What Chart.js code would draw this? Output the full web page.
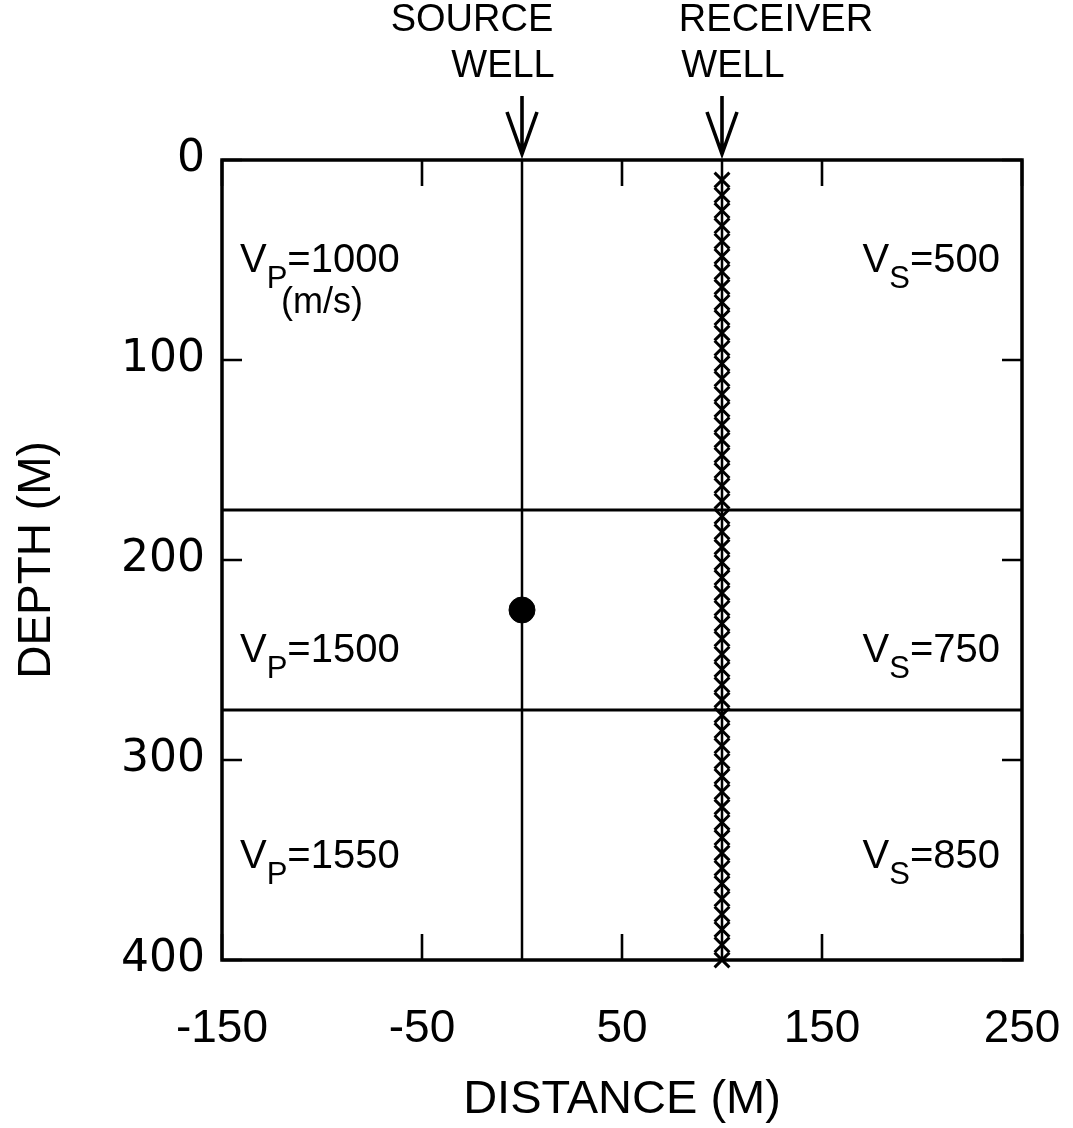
<!DOCTYPE html>
<html><head><meta charset="utf-8">
<script src="https://cdn.jsdelivr.net/npm/chart.js@4/dist/chart.umd.min.js"></script>
<style>html,body{margin:0;padding:0;background:#fff}canvas{display:block}</style>
</head><body>
<canvas id="c" width="1073" height="1128"></canvas>
<script>
// ---- data ----
const xTicks = [-150, -50, 50, 150, 250];
const yTicks = [0, 100, 200, 300, 400];
const wellNames = [['SOURCE', 'WELL'], ['RECEIVER', 'WELL']];
const wellX = [0, 100];
const layerBoundaries = [175, 275];
const sourcePoint = [{x: 0, y: 225}];
const receiverDepths = [10.0, 17.6, 25.3, 32.9, 40.6, 48.2, 55.9, 63.5, 71.2, 78.8, 86.5, 94.1,
  101.8, 109.4, 117.1, 124.7, 132.4, 140.0, 147.6, 155.3, 162.9, 170.6, 178.2, 185.9, 193.5,
  201.2, 208.8, 216.5, 224.1, 231.8, 239.4, 247.1, 254.7, 262.4, 270.0, 277.6, 285.3, 292.9,
  300.6, 308.2, 315.9, 323.5, 331.2, 338.8, 346.5, 354.1, 361.8, 369.4, 377.1, 384.7, 392.4, 400.0];
const vpValues = ['1000', '1500', '1550'];
const vsValues = ['500', '750', '850'];
const labelDepths = [49, 244, 347];
const unitLabel = '(m/s)';

const FONT = '"Liberation Sans", Arial, Helvetica, sans-serif';
const X_MIN = xTicks[0], X_MAX = xTicks[xTicks.length - 1];
const Y_MIN = yTicks[0], Y_MAX = yTicks[yTicks.length - 1];

const datasets = [];
wellX.forEach(w => datasets.push({
  type: 'line', data: [{x: w, y: Y_MIN}, {x: w, y: Y_MAX}],
  borderColor: '#000', borderWidth: 2.5, pointRadius: 0, fill: false
}));
layerBoundaries.forEach(d => datasets.push({
  type: 'line', data: [{x: X_MIN, y: d}, {x: X_MAX, y: d}],
  borderColor: '#000', borderWidth: 3, pointRadius: 0, fill: false
}));
datasets.push({
  type: 'scatter', data: receiverDepths.map(d => ({x: wellX[1], y: d})),
  pointStyle: 'crossRot', pointRadius: 10.5, borderColor: '#000', borderWidth: 3,
  backgroundColor: '#000', clip: false
});
datasets.push({
  type: 'scatter', data: sourcePoint, pointStyle: 'circle', pointRadius: 13,
  backgroundColor: '#000', borderColor: '#000', borderWidth: 1, clip: false
});

function velText(ctx, x, y, sub, val, align) {
  const big = '40px ' + FONT, small = '31px ' + FONT;
  ctx.font = big; const wV = ctx.measureText('V').width;
  const wEq = ctx.measureText('=' + val).width;
  ctx.font = small; const wS = ctx.measureText(sub).width;
  const total = wV + wS + wEq;
  const x0 = align === 'right' ? x - total : x;
  ctx.textAlign = 'left'; ctx.textBaseline = 'alphabetic';
  ctx.font = big; ctx.fillText('V', x0, y);
  ctx.font = small; ctx.fillText(sub, x0 + wV, y + 16);
  ctx.font = big; ctx.fillText('=' + val, x0 + wV + wS, y);
}

const overlay = {
  id: 'overlay',
  afterDatasetsDraw(chart) {
    const {ctx, chartArea: a, scales: {x, y}} = chart;
    ctx.save();
    ctx.strokeStyle = '#000'; ctx.fillStyle = '#000';
    // frame
    ctx.lineWidth = 3.5;
    ctx.strokeRect(a.left, a.top, a.right - a.left, a.bottom - a.top);
    // inside ticks
    ctx.lineWidth = 2.6;
    xTicks.forEach(v => {
      const px = x.getPixelForValue(v);
      ctx.beginPath();
      ctx.moveTo(px, a.top); ctx.lineTo(px, a.top + 26);
      ctx.moveTo(px, a.bottom); ctx.lineTo(px, a.bottom - 26);
      ctx.stroke();
    });
    yTicks.forEach(v => {
      const py = y.getPixelForValue(v);
      ctx.beginPath();
      ctx.moveTo(a.left, py); ctx.lineTo(a.left + 20, py);
      ctx.moveTo(a.right, py); ctx.lineTo(a.right - 20, py);
      ctx.stroke();
    });
    // well arrows and names
    wellX.forEach((w, i) => {
      const px = x.getPixelForValue(w);
      ctx.lineWidth = 3.6;
      ctx.beginPath();
      ctx.moveTo(px, a.top - 64); ctx.lineTo(px, a.top - 6);
      ctx.moveTo(px - 15, a.top - 48); ctx.lineTo(px, a.top - 6); ctx.lineTo(px + 15, a.top - 48);
      ctx.stroke();
      ctx.font = '38px ' + FONT; ctx.textAlign = 'center'; ctx.textBaseline = 'middle';
      const offs = i === 0 ? [-50, -19] : [54, 11];
      ctx.fillText(wellNames[i][0], px + offs[0], 21);
      ctx.fillText(wellNames[i][1], px + offs[1], 67);
    });
    // velocity labels
    const lx = x.getPixelForValue(-141), rx = x.getPixelForValue(239);
    labelDepths.forEach((d, i) => {
      const py = y.getPixelForValue(d) + 14;
      velText(ctx, lx, py, 'P', vpValues[i], 'left');
      velText(ctx, rx, py, 'S', vsValues[i], 'right');
    });
    ctx.font = '36px ' + FONT; ctx.textAlign = 'center'; ctx.textBaseline = 'middle';
    ctx.fillText(unitLabel, x.getPixelForValue(-100), y.getPixelForValue(71.5));
    ctx.restore();
  }
};

new Chart(document.getElementById('c').getContext('2d'), {
  type: 'scatter',
  data: {datasets},
  options: {
    responsive: false, animation: false, devicePixelRatio: 1,
    layout: {padding: {top: 160, right: 51, left: 0, bottom: 0}},
    plugins: {legend: {display: false}, tooltip: {enabled: false}},
    scales: {
      x: {
        type: 'linear', min: X_MIN, max: X_MAX,
        afterBuildTicks: s => { s.ticks = xTicks.map(v => ({value: v})); },
        afterFit: s => { s.height = 168; s.paddingLeft = 0; s.paddingRight = 0; },
        grid: {display: false, drawTicks: false}, border: {display: false},
        ticks: {color: '#000', font: {family: FONT, size: 46}, padding: 42, maxRotation: 0, autoSkip: false},
        title: {display: true, text: 'DISTANCE (M)', color: '#000', font: {family: FONT, size: 47}, padding: {top: 0, bottom: 0}}
      },
      y: {
        type: 'linear', reverse: true, min: Y_MIN, max: Y_MAX,
        afterBuildTicks: s => { s.ticks = yTicks.map(v => ({value: v})); },
        afterFit: s => { s.width = 222; s.paddingTop = 0; s.paddingBottom = 0; },
        grid: {display: false, drawTicks: false}, border: {display: false},
        ticks: {color: '#000', font: {family: '"DejaVu Sans", sans-serif', size: 44}, padding: 17, autoSkip: false},
        title: {display: true, text: 'DEPTH (M)', color: '#000', font: {family: FONT, size: 46}, padding: {top: 10, bottom: 0}}
      }
    }
  },
  plugins: [overlay]
});
</script>
</body></html>
